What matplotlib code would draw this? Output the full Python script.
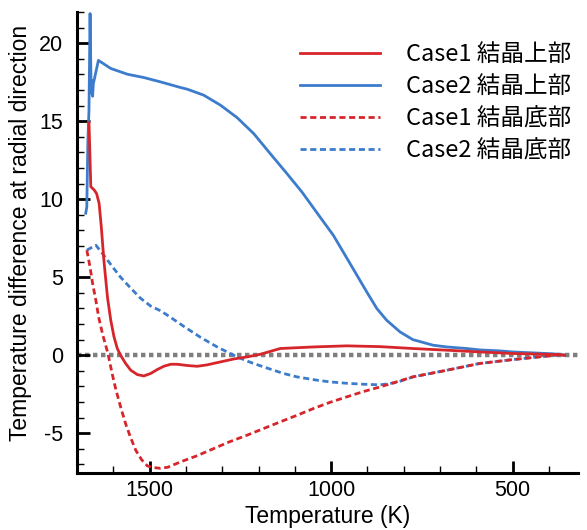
import numpy as np
import matplotlib
matplotlib.use('Agg')
import matplotlib.pyplot as plt
from matplotlib.ticker import MultipleLocator

# Case2 crystal top (blue solid)
c2_top_T = [1676, 1673, 1670, 1667, 1664, 1661, 1659, 1657, 1655, 1641, 1607, 1561,
            1516, 1470, 1415, 1396, 1351, 1305, 1259, 1213, 1168, 1122, 1080, 1035,
            994, 948, 902, 874, 847, 810, 775, 719, 681, 627, 591, 536, 500, 407,
            371, 357]
c2_top_v = [9.1, 9.5, 13.8, 15.7, 21.9, 16.8, 17.6, 16.6, 17.4, 18.9, 18.38, 18.01,
            17.8, 17.52, 17.16, 17.05, 16.67, 16.03, 15.23, 14.2, 12.93, 11.65, 10.45, 9.0,
            7.69, 5.88, 4.06, 2.99, 2.24, 1.49, 1.0, 0.64, 0.53, 0.43, 0.34, 0.28, 0.21, 0.11,
            0.06, 0.0]

# Case1 crystal top (red solid)
c1_top_T = [1667, 1664, 1662, 1653, 1646, 1639, 1633, 1626, 1616, 1607, 1598, 1589,
            1580, 1566, 1552, 1534, 1516, 1497, 1479, 1461, 1442, 1424, 1396, 1369,
            1342, 1305, 1268, 1232, 1195, 1140, 1049, 957, 865, 775, 681, 591, 500,
            407, 371, 357]
c1_top_v = [14.9, 12.5, 10.8, 10.6, 10.36, 9.72, 8.2, 6.1, 3.7, 2.24, 1.17, 0.43,
            0.0, -0.53, -0.96, -1.24, -1.33, -1.17, -0.92, -0.71, -0.58, -0.58, -0.66, -0.71,
            -0.62, -0.43, -0.24, -0.11, 0.06, 0.43, 0.53, 0.6, 0.55, 0.43, 0.32, 0.21, 0.11,
            0.06, 0.03, 0.0]

# Case1 crystal bottom (red dashed)
c1_bot_T = [1673, 1665, 1657, 1648, 1640, 1629, 1615, 1604, 1593, 1580, 1566, 1552,
            1538, 1522, 1506, 1489, 1470, 1450, 1415, 1370, 1323, 1280, 1232, 1186,
            1140, 1094, 1049, 1003, 957, 911, 865, 775, 681, 591, 500, 407, 371, 357]
c1_bot_v = [6.73, 5.77, 4.6, 3.5, 2.4, 1.3, 0.13, -1.1, -2.2, -3.3, -4.4, -5.3,
            -6.1, -6.7, -7.1, -7.2, -7.25, -7.18, -6.84, -6.45, -5.98, -5.55, -5.13, -4.7,
            -4.27, -3.85, -3.42, -3.02, -2.67, -2.33, -2.03, -1.39, -0.96, -0.53, -0.28, -0.06, 0.03, 0.0]

# Case2 crystal bottom (blue dashed)
c2_bot_T = [1673, 1660, 1648, 1626, 1600, 1580, 1552, 1525, 1497, 1470, 1450, 1406, 1360,
            1314, 1259, 1223, 1186, 1131, 1094, 1039, 1003, 957, 911, 865, 820, 775,
            681, 591, 500, 407, 371, 357]
c2_bot_v = [6.73, 6.9, 7.05, 6.4, 5.6, 5.0, 4.3, 3.65, 3.15, 2.85, 2.55, 1.85, 1.15,
            0.53, -0.11, -0.45, -0.75, -1.17, -1.39, -1.6, -1.71, -1.8, -1.86, -1.9, -1.75, -1.39,
            -0.96, -0.53, -0.28, -0.06, 0.03, 0.0]

labels = ['Case1 結晶上部', 'Case2 結晶上部', 'Case1 結晶底部', 'Case2 結晶底部']

red = '#d7262b'
blue = '#3d7ccc'

plt.rcParams['font.family'] = ['Liberation Sans', 'DejaVu Sans']
plt.rcParams['axes.unicode_minus'] = False

fig = plt.figure(figsize=(5.87, 5.30), dpi=100)
ax = fig.add_axes([77/587, 1-473/530, (578-77)/587, (473-12)/530])

ax.axhline(0, color='#808080', lw=3.2, linestyle=(0, (1, 0.8)), dash_capstyle='butt', zorder=1)

ax.plot(c1_top_T, c1_top_v, color=red, lw=2, label=labels[0], zorder=3)
ax.plot(c2_top_T, c2_top_v, color=blue, lw=2, label=labels[1], zorder=2)
ax.plot(c1_bot_T, c1_bot_v, color=red, lw=2, linestyle=(0, (2.2, 1.3)), label=labels[2], zorder=3)
ax.plot(c2_bot_T, c2_bot_v, color=blue, lw=2, linestyle=(0, (2.2, 1.3)), label=labels[3], zorder=2)

ax.set_xlim(1700, 320)
ax.set_ylim(-7.55, 22)
ax.xaxis.set_major_locator(MultipleLocator(500))
ax.xaxis.set_minor_locator(MultipleLocator(100))
ax.yaxis.set_major_locator(MultipleLocator(5))
ax.yaxis.set_minor_locator(MultipleLocator(1))

for s in ['top', 'right']:
    ax.spines[s].set_visible(False)
for s in ['left', 'bottom']:
    ax.spines[s].set_linewidth(2.2)

ax.tick_params(which='major', direction='in', length=9, width=2, labelsize=15.5)
ax.tick_params(which='minor', direction='in', length=5, width=1)
ax.tick_params(axis='y', which='major', pad=10)
ax.tick_params(axis='x', which='major', pad=5)

ax.set_xlabel('Temperature (K)', fontsize=16.5, labelpad=3)
ax.set_ylabel('Temperature difference at radial direction', fontsize=16.5)
ax.yaxis.set_label_coords(-0.09, 0.52)

leg = ax.legend(loc='upper left', bbox_to_anchor=(300/587, 1-43/530),
                bbox_transform=fig.transFigure, frameon=False,
                prop={'family': ['Noto Sans CJK JP'], 'size': 17},
                handlelength=3.4, handletextpad=1.1, labelspacing=0.39,
                borderpad=0, borderaxespad=0)

fig.savefig('out.png', dpi=100)
